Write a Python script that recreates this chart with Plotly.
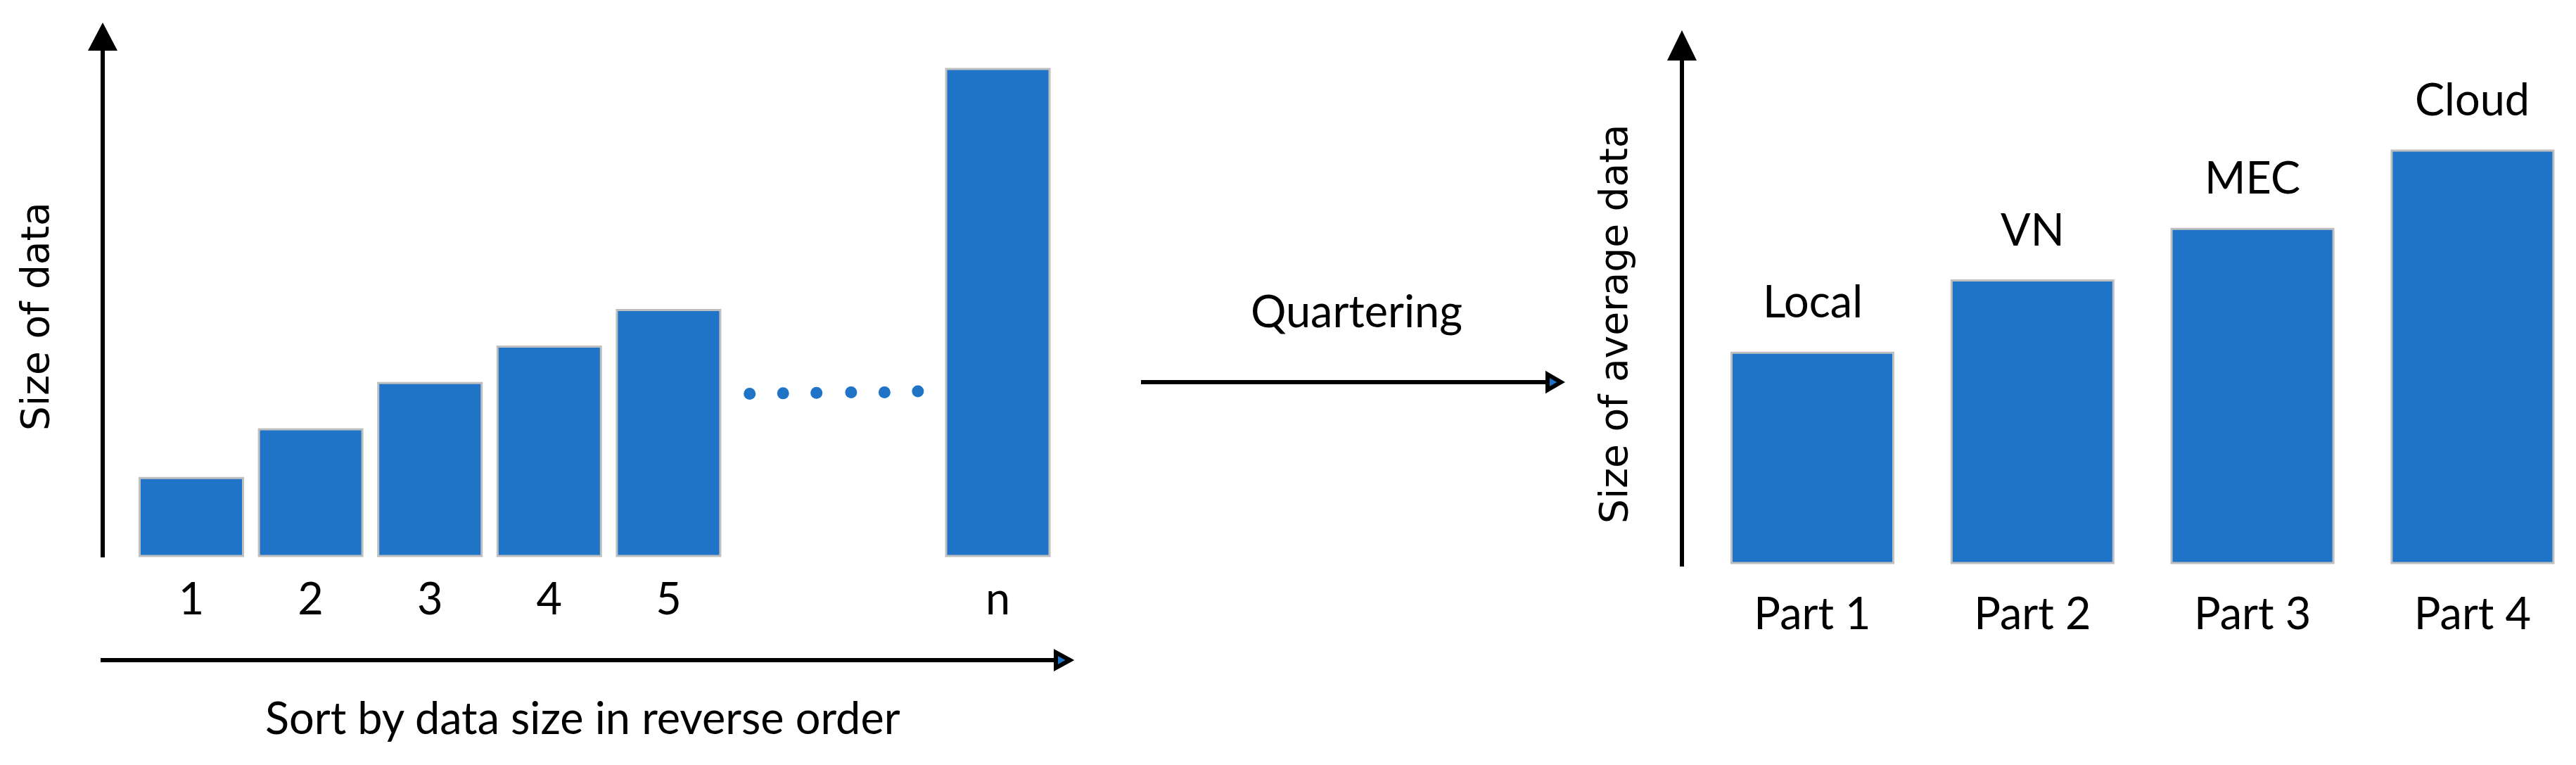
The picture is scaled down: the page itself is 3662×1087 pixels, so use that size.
import plotly.graph_objects as go

W, H = 3662, 1087

# ---------------- data ----------------
left_categories = ["1", "2", "3", "4", "5", "n"]
left_values = [1.6, 2.6, 3.55, 4.3, 5.05, 10.0]
ellipsis_x = [4.68, 4.96, 5.24, 5.53, 5.81, 6.09]
ellipsis_y = [3.33, 3.34, 3.35, 3.36, 3.36, 3.38]

right_categories = ["Part 1", "Part 2", "Part 3", "Part 4"]
right_values = [5.1, 6.85, 8.1, 10.0]
right_labels = ["Local", "VN", "MEC", "Cloud"]

left_xtitle = "Sort by data size in reverse order"
left_ytitle = "Size of data"
right_ytitle = "Size of average data"
middle_text = "Quartering"

# ---------------- styles / geometry ----------------
BLUE = "#2074C7"
EDGE = "#BFBFBF"
TXT_FONT = "Lato"
TXT_SIZE = 63
TTL_FONT = "DejaVu Sans"
TTL_SIZE = 55


def fx(px):
    return px / W


def fy(py):
    return 1 - py / H


L_ORIGIN_X, L_STEP = 272.0, 169.6
L_ZERO_Y, L_UNIT = 790.0, 69.2
L_DOM_X = (149, 1600)
L_DOM_Y = (792, 68)
N_GAP = 1.76

R_ORIGIN_X, R_STEP = 2576.5, 312.8
R_ZERO_Y, R_UNIT = 800.0, 58.6
R_DOM_X = (2394, 3662)
R_DOM_Y = (805, 82)

left_pos = [i if i < 5 else i + N_GAP for i in range(len(left_categories))]

lx_range = [(L_DOM_X[0] - L_ORIGIN_X) / L_STEP, (L_DOM_X[1] - L_ORIGIN_X) / L_STEP]
ly_range = [(L_ZERO_Y - L_DOM_Y[0]) / L_UNIT, (L_ZERO_Y - L_DOM_Y[1]) / L_UNIT]
rx_range = [(R_DOM_X[0] - R_ORIGIN_X) / R_STEP, (R_DOM_X[1] - R_ORIGIN_X) / R_STEP]
ry_range = [(R_ZERO_Y - R_DOM_Y[0]) / R_UNIT, (R_ZERO_Y - R_DOM_Y[1]) / R_UNIT]

fig = go.Figure()

fig.add_trace(go.Bar(
    x=left_pos, y=left_values, width=147 / L_STEP,
    marker=dict(color=BLUE, line=dict(color=EDGE, width=3)),
    xaxis="x", yaxis="y", showlegend=False, hoverinfo="skip",
))
fig.add_trace(go.Scatter(
    x=ellipsis_x, y=ellipsis_y, mode="markers",
    marker=dict(size=17, color=BLUE, line=dict(width=0)),
    xaxis="x", yaxis="y", showlegend=False, hoverinfo="skip", cliponaxis=False,
))
fig.add_trace(go.Bar(
    x=right_categories, y=right_values, width=230 / R_STEP,
    marker=dict(color=BLUE, line=dict(color=EDGE, width=3)),
    xaxis="x2", yaxis="y2", showlegend=False, hoverinfo="skip",
))

tickfont = dict(family=TXT_FONT, size=TXT_SIZE, color="black")
common_x = dict(showgrid=False, zeroline=False, showline=False, ticks="",
                tickfont=tickfont, fixedrange=True)
common_y = dict(showgrid=False, zeroline=False, showline=True, linecolor="black",
                linewidth=6, ticks="", showticklabels=False, fixedrange=True)


def path(points):
    s = "M " + " L ".join(f"{fx(x):.6f},{fy(y):.6f}" for x, y in points) + " Z"
    return s


shapes = [
    # left y-axis arrow head
    dict(type="path", xref="paper", yref="paper",
         path=path([(125, 72), (167, 72), (146, 32)]),
         fillcolor="black", line=dict(width=0)),
    # right y-axis arrow head
    dict(type="path", xref="paper", yref="paper",
         path=path([(2370, 86), (2412, 86), (2391, 43)]),
         fillcolor="black", line=dict(width=0)),
    # left x-axis arrow
    dict(type="line", xref="paper", yref="paper",
         x0=fx(143), x1=fx(1503), y0=fy(938), y1=fy(938),
         line=dict(color="black", width=6)),
    dict(type="path", xref="paper", yref="paper",
         path=path([(1501, 927), (1501, 949), (1521, 938)]),
         fillcolor=BLUE, line=dict(color="black", width=6)),
    # middle arrow
    dict(type="line", xref="paper", yref="paper",
         x0=fx(1622), x1=fx(2203), y0=fy(543), y1=fy(543),
         line=dict(color="black", width=6)),
    dict(type="path", xref="paper", yref="paper",
         path=path([(2200, 532), (2200, 554), (2219, 543)]),
         fillcolor=BLUE, line=dict(color="black", width=6)),
]

txtfont = dict(family=TXT_FONT, size=TXT_SIZE, color="black")
ttlfont = dict(family=TTL_FONT, size=TTL_SIZE, color="black")

annotations = []
for cat, val, lab in zip(right_categories, right_values, right_labels):
    annotations.append(dict(x=cat, y=val, xref="x2", yref="y2", text=lab,
                            showarrow=False, yanchor="bottom", yshift=35,
                            font=txtfont))
annotations += [
    dict(x=fx(1928), y=fy(464 + 15.6), xref="paper", yref="paper",
         text=middle_text, showarrow=False, xanchor="center", yanchor="bottom",
         font=txtfont),
    dict(x=fx(828), y=fy(1042 + 15.6), xref="paper", yref="paper",
         text=left_xtitle, showarrow=False, xanchor="center", yanchor="bottom",
         font=txtfont),
    dict(x=fx(50), y=fy(450), xref="paper", yref="paper", text=left_ytitle,
         showarrow=False, textangle=-90, xanchor="center", yanchor="middle",
         font=ttlfont),
    dict(x=fx(2294), y=fy(461), xref="paper", yref="paper", text=right_ytitle,
         showarrow=False, textangle=-90, xanchor="center", yanchor="middle",
         font=ttlfont),
]

fig.update_layout(
    width=W, height=H, autosize=False,
    margin=dict(l=0, r=0, t=0, b=0, pad=0),
    paper_bgcolor="white", plot_bgcolor="white",
    showlegend=False,
    xaxis=dict(domain=[fx(L_DOM_X[0]), fx(L_DOM_X[1])], range=lx_range,
               tickmode="array", tickvals=left_pos, ticktext=left_categories,
               anchor="y", ticklabelstandoff=17, **common_x),
    yaxis=dict(domain=[fy(L_DOM_Y[0]), fy(L_DOM_Y[1])], range=ly_range,
               anchor="x", **common_y),
    xaxis2=dict(domain=[fx(R_DOM_X[0]), fx(R_DOM_X[1])], range=rx_range,
                type="category", categoryorder="array",
                categoryarray=right_categories,
                anchor="y2", ticklabelstandoff=25, **common_x),
    yaxis2=dict(domain=[fy(R_DOM_Y[0]), fy(R_DOM_Y[1])], range=ry_range,
                anchor="x2", **common_y),
    shapes=shapes,
    annotations=annotations,
)

fig.write_html(
    "out.html",
    config={"displayModeBar": False, "staticPlot": True},
    post_script="document.body.style.margin='0';document.body.style.padding='0';",
)
